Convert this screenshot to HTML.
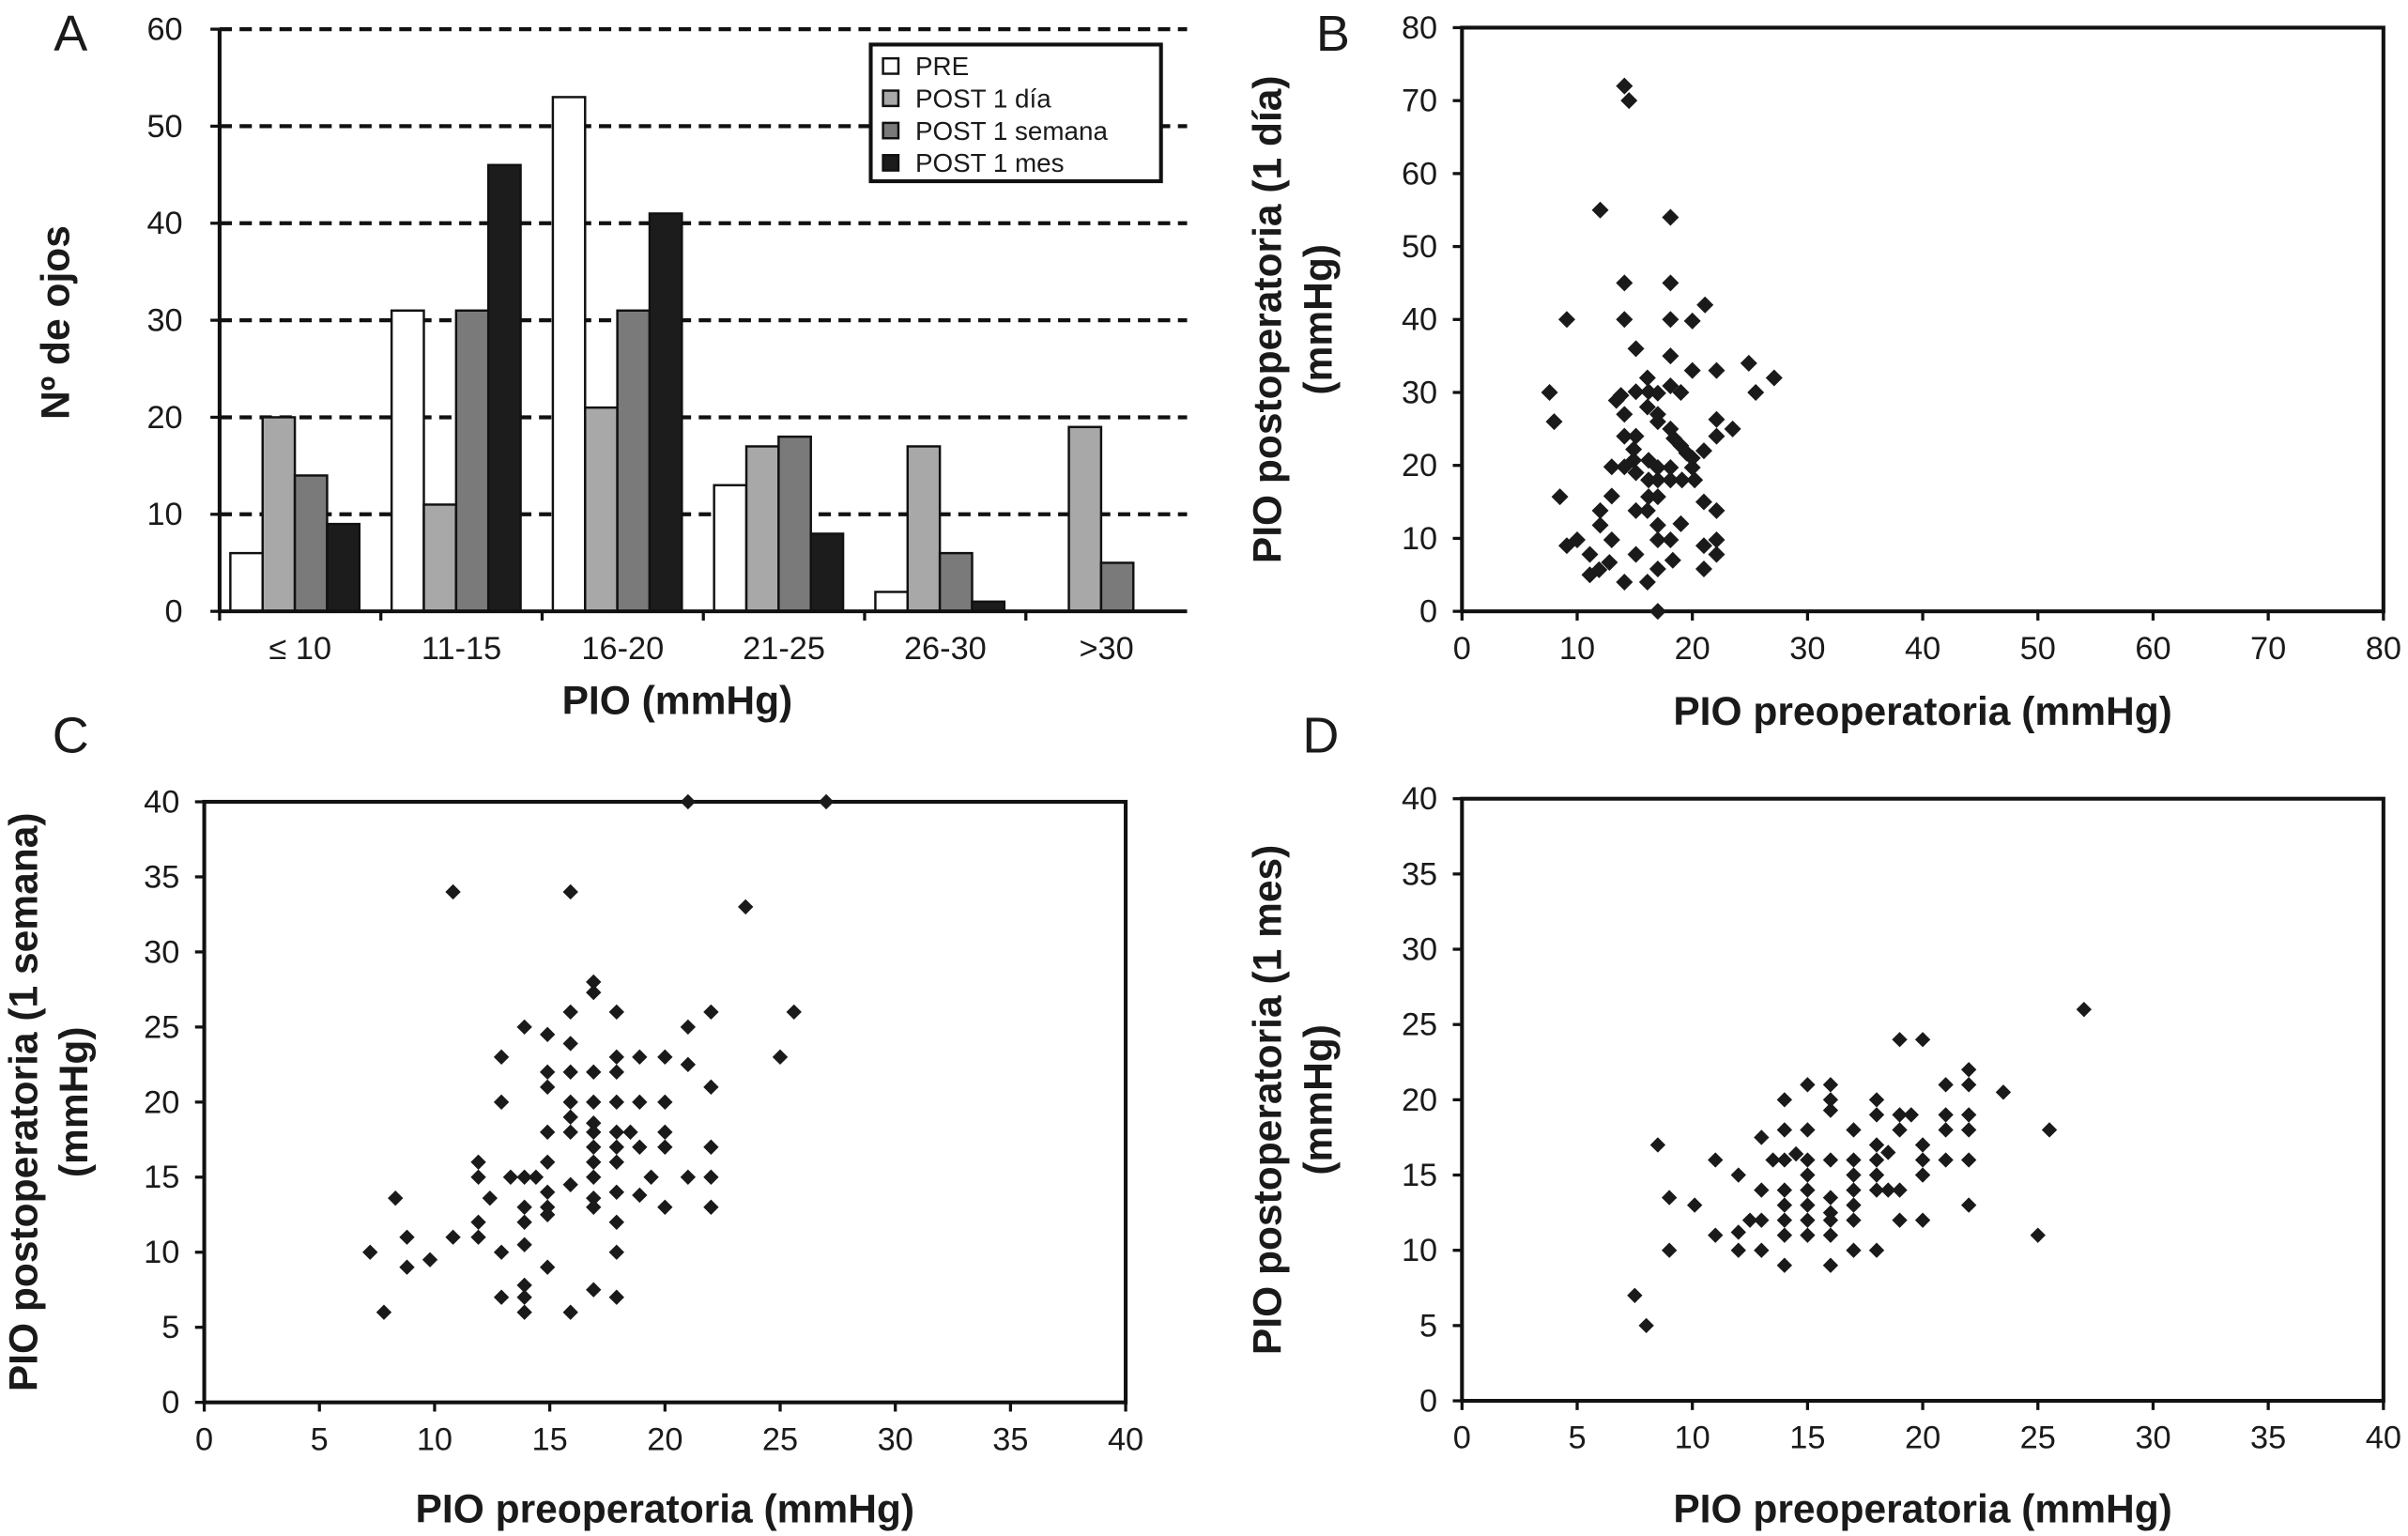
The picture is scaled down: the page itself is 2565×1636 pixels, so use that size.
<!DOCTYPE html>
<html><head><meta charset="utf-8"><style>
html,body{margin:0;padding:0;background:#fff;}
svg{display:block;}
text{font-family:"Liberation Sans",Arial,sans-serif;fill:#1a1a1a;}
.tk{font-size:21px;}
.tt{font-size:26px;font-weight:bold;}
.pl{font-size:33px;}
</style></head><body>
<svg id="fig" width="2565" height="1636" viewBox="0 0 1568 1000" preserveAspectRatio="none" xmlns="http://www.w3.org/2000/svg">
<g id="gA"></g>
<g id="gB"></g>
<g id="gC"></g>
<g id="gD"></g>
</svg>
<script>
// ---- Panel A data ----
const catsA = ["\u2264 10","11-15","16-20","21-25","26-30",">30"];
const seriesNames = ["PRE","POST 1 d\u00eda","POST 1 semana","POST 1 mes"];
const pre = [6,31,53,13,2,0];
const post1d = [20,11,21,17,17,19];
const post1s = [14,31,31,18,6,5];
const post1m = [9,46,41,8,1,0];
const ticksA = [0,10,20,30,40,50,60];
// ---- Panel B data (pre, post 1 dia) ----
const bX = [14.1,14.5,12,18.1,14.1,18.1,21.1,9.1,14.1,18.1,20,15.1,18.1,20,22.1,24.9,27.1,7.6,25.5,16.1,13.8,13.4,15.1,16.2,17,18.1,19,8,14.1,16.1,17,17,22.1,23.5,22.1,21,18.1,18.4,19,19.5,20,20,14.1,15.1,14.9,14.9,13,14.1,15.1,16.2,17,18.1,16.2,17,18.1,19.1,20.2,8.5,13,16.2,17,21,22.1,12,15.1,16.1,12,17,19,9.1,10,13,17,18.1,21,22.1,22.1,11.1,15.1,18.3,21,11.1,11.9,12.8,17,14.1,16.1,17];
const bY = [72,70,55,54,45,45,42,40,40,40,39.8,36,35,33,33,34,32,30,30,32,29.6,28.9,30.1,30.1,29.9,30.9,30,26,27,28,27,26,26.3,25,24,22,25,23.7,22.7,21.7,21,19.7,24,24,22.2,20.7,19.8,19.8,19,20.7,19.7,19.7,18,18,18,18,18,15.7,15.8,15.7,15.7,15,13.8,13.8,13.8,13.8,11.8,11.8,12,9,9.8,9.8,9.8,9.8,9,9.8,7.8,7.8,7.8,7,5.8,5,5.7,6.7,5.8,4,4,0];
const ticksB = [0,10,20,30,40,50,60,70,80];
// ---- Panel C data (pre, post 1 semana) ----
const cX = [21,27,10.8,15.9,23.5,16.9,16.9,15.9,17.9,22,25.6,13.9,14.9,15.9,21,12.9,17.9,18.9,20,21,25,14.9,14.9,15.9,16.9,17.9,22,12.9,15.9,16.9,17.9,18.9,20,15.9,15.9,16.9,16.9,14.9,17.9,18.5,20,16.9,17.9,18.9,20,22,11.9,11.9,13.3,13.9,14.4,14.9,16.9,17.9,16.9,19.4,21,22,15.9,14.9,17.9,18.9,8.3,12.4,13.9,14.9,14.9,16.9,16.9,20,22,11.9,13.9,17.9,8.8,10.8,11.9,13.9,7.2,12.9,17.9,9.8,8.8,14.9,13.9,12.9,13.9,16.9,17.9,7.8,13.9,15.9];
const cY = [40,40,34,34,33,28,27.3,26,26,26,26,25,24.5,23.9,25,23,23,23,23,22.5,23,22,21,22,22,22,21,20,20,20,20,20,20,19,18,18.6,18,18,18,18,18,17,17,17,17,17,16,15,15,15,15,16,16,16,15,15,15,15,14.5,14,14,13.8,13.6,13.6,13,13,12.5,13.6,13,13,13,12,12,12,11,11,11,10.5,10,10,10,9.5,9,9,7.8,7,7,7.5,7,6,6,6];
const ticksC = [0,5,10,15,20,25,30,35,40];
// ---- Panel D data (pre, post 1 mes) ----
const dX = [27,19,20,22,21,22,23.5,15,16,14,16,16,18,18,19,19.5,21,22,14,15,17,19,21,22,25.5,8.5,13,18,18.5,20,11,13.5,14,14.5,15,16,17,18,20,21,22,12,15,17,18,20,13,14,15,17,18,18.5,19,9,10.1,14,15,16,17,22,12.5,13,14,15,16,16,17,19,20,11,12,14,15,16,25,9,12,13,17,18,14,16,7.5,8];
const dY = [26,24,24,22,21,21,20.5,21,21,20,20,19.3,20,19,19,19,19,19,18,18,18,18,18,18,18,17,17.5,17,16.5,17,16,16,16,16.4,16,16,16,16,16,16,16,15,15,15,15,15,14,14,14,14,14,14,14,13.5,13,13,13,13.5,13,13,12,12,12,12,12.5,12,12,12,12,11,11.2,11,11,11,11,10,10,10,10,10,9,9,7,5];
const ticksD = [0,5,10,15,20,25,30,35,40];

const NS = "http://www.w3.org/2000/svg";
function mk(parent, tag, attrs, txt){
  const e = document.createElementNS(NS, tag);
  for (const k in attrs) e.setAttribute(k, attrs[k]);
  if (txt !== undefined) e.textContent = txt;
  parent.appendChild(e);
  return e;
}

// ---------- Panel A ----------
(function(){
  const g = document.getElementById('gA');
  const L=143,R=773,T=19,B=398,ymax=60;
  const y = v => B - v/ymax*(B-T);
  const cw = (R-L)/catsA.length;
  const x0 = i => L + i*cw;
  ticksA.forEach(t=>{
    if (t>0){
      const gl = mk(g,'line',{x1:L,x2:R,y1:y(t),y2:y(t),stroke:'#111','stroke-width':2.6,'stroke-dasharray':'8,5'});
      
      
    }
    const tk = mk(g,'line',{x1:L-6,x2:L,y1:y(t),y2:y(t),stroke:'#111','stroke-width':2});
    
    
    const lb = mk(g,'text',{x:L-24,y:y(t)+7,'text-anchor':'end',class:'tk'},t);
    
    
  });
  const series=[pre,post1d,post1s,post1m];
  const cols=['#ffffff','#a8a8a8','#7a7a7a','#1c1c1c'];
  const bw=21, off=7;
  series.forEach((s,si)=>{
    s.forEach((v,i)=>{
      if (v<=0) return;
      const r = mk(g,'rect',{x:x0(i)+off+si*bw,y:y(v),width:bw,height:B-y(v),fill:cols[si],stroke:'#111','stroke-width':1.5});
      
      
    });
  });
  catsA.forEach((c,i)=>{
    const tk = mk(g,'line',{x1:x0(i),x2:x0(i),y1:B,y2:B+6,stroke:'#111','stroke-width':2});
    
    
    const lb = mk(g,'text',{x:x0(i)+cw/2,y:B+31,'text-anchor':'middle',class:'tk'},c);
    
    
  });
  const ax = mk(g,'path',{d:`M${L},${T} V${B} H${R}`,fill:'none',stroke:'#111','stroke-width':2.5});
  
  
  const lg = mk(g,'g',{});
  
  
  mk(lg,'rect',{x:567,y:29,width:189,height:89,fill:'#fff',stroke:'#111','stroke-width':2.5});
  seriesNames.forEach((n,i)=>{
    const yy = 43+i*21;
    const sw = mk(lg,'rect',{x:575,y:yy-5,width:10,height:10,fill:cols[i],stroke:'#111','stroke-width':1.5});
    
    
    const t = mk(lg,'text',{x:596,y:yy+6,style:'font-size:17px'},n);
    
    
  });
  const xt = mk(g,'text',{x:441,y:465,'text-anchor':'middle',class:'tt'},'PIO (mmHg)');
  
  
  const yt = mk(g,'text',{x:0,y:0,'text-anchor':'middle',class:'tt',transform:'translate(45,210) rotate(-90)'},'N\u00ba de ojos');
  
  
  const pl = mk(g,'text',{x:46,y:33,'text-anchor':'middle',class:'pl'},'A');
  
  
})();

// ---------- scatter helper ----------
function scatter(id, xs, ys, ticks, max, box, opts){
  const g = document.getElementById(id);
  const {L,R,T,B} = box;
  const sx = v => L + v/max*(R-L);
  const sy = v => B - v/max*(B-T);
  const fr = mk(g,'rect',{x:L,y:T,width:R-L,height:B-T,fill:'none',stroke:'#111','stroke-width':2.5});
  
  
  ticks.forEach(t=>{
    const a = mk(g,'line',{x1:L-6,x2:L,y1:sy(t),y2:sy(t),stroke:'#111','stroke-width':2});
    
    
    const b = mk(g,'line',{x1:sx(t),x2:sx(t),y1:B,y2:B+6,stroke:'#111','stroke-width':2});
    
    
    const yl = mk(g,'text',{x:L-16,y:sy(t)+7,'text-anchor':'end',class:'tk'},t);
    
    
    const xl = mk(g,'text',{x:sx(t),y:B+31,'text-anchor':'middle',class:'tk'},t);
    
    
  });
  const r = opts.r;
  xs.forEach((v,i)=>{
    const cx = sx(v), cy = sy(ys[i]);
    const p = mk(g,'path',{d:`M${cx},${cy-r} L${cx+r},${cy} L${cx},${cy+r} L${cx-r},${cy} Z`,fill:'#1a1a1a'});
    
    
  });
  const xt = mk(g,'text',{x:(L+R)/2,y:B+opts.xtOff,'text-anchor':'middle',class:'tt'},'PIO preoperatoria (mmHg)');
  
  
  const y1 = mk(g,'text',{x:0,y:0,'text-anchor':'middle',class:'tt',transform:`translate(${opts.yt1},${(T+B)/2}) rotate(-90)`},opts.ytitle);
  
  
  const y2 = mk(g,'text',{x:0,y:0,'text-anchor':'middle',class:'tt',transform:`translate(${opts.yt2},${(T+B)/2}) rotate(-90)`},'(mmHg)');
  
  
  const pl = mk(g,'text',{x:opts.plx,y:opts.ply,'text-anchor':'middle',class:'pl'},opts.label);
  
  
}
scatter('gB', bX, bY, ticksB, 80, {L:952,R:1552,T:18,B:398}, {r:5.5,xtOff:74,ytitle:'PIO postoperatoria (1 d\u00eda)',yt1:834,yt2:867,label:'B',plx:868,ply:33});
scatter('gC', cX, cY, ticksC, 40, {L:133,R:733,T:522,B:913}, {r:5,xtOff:78,ytitle:'PIO postoperatoria (1 semana)',yt1:24,yt2:57,label:'C',plx:46,ply:490});
scatter('gD', dX, dY, ticksD, 40, {L:952,R:1552,T:520,B:912}, {r:5,xtOff:79,ytitle:'PIO postoperatoria (1 mes)',yt1:834,yt2:867,label:'D',plx:860,ply:490});
</script>
</body></html>
